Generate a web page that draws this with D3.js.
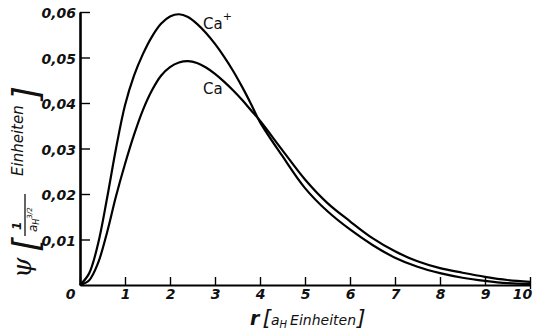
<!DOCTYPE html>
<html>
<head>
<meta charset="utf-8">
<script src="https://cdn.jsdelivr.net/npm/d3@7"></script>
<style>
  body { margin: 0; background: #fff; }
  svg { display: block; }
  .tick text { font-family: "DejaVu Sans", sans-serif; font-style: italic; font-weight: bold; font-size: 14px; fill: #111; }
</style>
</head>
<body>
<svg id="chart" width="533" height="334"></svg>
<script>
// radius in a_H units
const rValues = [0, 0.2, 0.4, 0.6, 0.8, 1.0, 1.2, 1.4, 1.6, 1.8, 2.0, 2.2, 2.4, 2.6, 2.8, 3.0, 3.2, 3.4, 3.6, 3.8, 4.0, 4.5, 5.0, 5.5, 6.0, 6.5, 7.0, 7.5, 8.0, 8.5, 9.0, 9.5, 10];
const caPlus = [0, 0.0025, 0.009, 0.019, 0.030, 0.0395, 0.0460, 0.0508, 0.0546, 0.0574, 0.0590, 0.0595, 0.0589, 0.0574, 0.0554, 0.0530, 0.0502, 0.0471, 0.0436, 0.0398, 0.0358, 0.0283, 0.0213, 0.0162, 0.0122, 0.0088, 0.0060, 0.0040, 0.0026, 0.0016, 0.0009, 0.0004, 0.0002];
const ca = [0, 0.0010, 0.0048, 0.0115, 0.0195, 0.0266, 0.0330, 0.0385, 0.0428, 0.0460, 0.0479, 0.0489, 0.0492, 0.0488, 0.0478, 0.0464, 0.0447, 0.0428, 0.0407, 0.0384, 0.0361, 0.0296, 0.0232, 0.0180, 0.0140, 0.0103, 0.0074, 0.0052, 0.0037, 0.0027, 0.0018, 0.0011, 0.0007];
const xTicks = [0, 1, 2, 3, 4, 5, 6, 7, 8, 9, 10];
const yTicks = [0.01, 0.02, 0.03, 0.04, 0.05, 0.06];

const svg = d3.select('#chart');
const x = d3.scaleLinear().domain([0, 10]).range([80, 530]);
const y = d3.scaleLinear().domain([0, 0.06]).range([285, 12]);

// axes, ticks point inward
const xAxis = svg.append('g')
  .attr('transform', `translate(0,${y(0)})`)
  .call(d3.axisBottom(x).tickValues(xTicks).tickSizeInner(-8).tickSizeOuter(0).tickPadding(4).tickFormat(d3.format('d')));
xAxis.select('.domain').attr('stroke-width', 2.2);
xAxis.selectAll('.tick line').attr('stroke-width', 1.4);
xAxis.selectAll('.tick').filter(d => d === 0).select('text').attr('dx', -10);
// last label sits at the right edge, keep it inside
xAxis.selectAll('.tick').filter(d => d === 10).select('text').attr('dx', -8);
xAxis.selectAll('.tick').filter(d => d === 10).select('line').attr('y2', 4).attr('y1', -8);

const yAxis = svg.append('g')
  .attr('transform', `translate(${x(0)},0)`)
  .call(d3.axisLeft(y).tickValues(yTicks).tickSizeInner(-10).tickSizeOuter(0).tickPadding(4)
    .tickFormat(d => d3.format('.2f')(d).replace('.', ',')));
yAxis.select('.domain').attr('stroke-width', 2.6);
yAxis.selectAll('.tick line').attr('stroke-width', 1.4);
yAxis.selectAll('.tick text').attr('dy', '0.4em');

// curves
const line = d3.line()
  .x((d, i) => x(rValues[i]))
  .y(d => y(d))
  .curve(d3.curveCatmullRom.alpha(0.5));

[caPlus, ca].forEach(s => {
  svg.append('path')
    .attr('d', line(s))
    .attr('fill', 'none')
    .attr('stroke', '#000')
    .attr('stroke-width', 2.2);
});

// curve labels
const labelFont = '"DejaVu Sans", sans-serif';
const cp = svg.append('text').attr('x', 203).attr('y', 29)
  .style('font-family', labelFont).style('font-size', '15px').attr('fill', '#111');
cp.append('tspan').text('Ca');
cp.append('tspan').attr('dy', -9).style('font-size', '11px').text('+');
svg.append('text').attr('x', 203).attr('y', 94)
  .style('font-family', labelFont).style('font-size', '15px').attr('fill', '#111').text('Ca');

// x axis title
const xt = svg.append('text').attr('x', 250).attr('y', 325)
  .style('font-family', labelFont).style('font-style', 'italic').style('font-size', '14px').attr('fill', '#111');
xt.append('tspan').style('font-weight', 'bold').style('font-size', '19px').text('r');
xt.append('tspan').attr('dx', 3).style('font-size', '22px').text('[');
xt.append('tspan').text('a');
xt.append('tspan').attr('dy', 3).style('font-size', '10px').text('H');
xt.append('tspan').attr('dy', -3).attr('dx', 3).text('Einheiten');
xt.append('tspan').attr('dx', 1).style('font-size', '22px').text(']');

// y axis title (rotated, rotated x grows upward)
const yt = svg.append('g').attr('transform', 'translate(0,280) rotate(-90)')
  .style('font-family', labelFont).style('font-style', 'italic').attr('fill', '#111');
yt.append('text').attr('x', 2).attr('y', 31).style('font-size', '26px').style('font-family', '"DejaVu Serif", serif').text('ψ');
yt.append('text').attr('x', 28).attr('y', 38).style('font-size', '36px').text('[');
yt.append('text').attr('x', 50).attr('y', 21).style('font-size', '12px').style('font-weight', 'bold').text('1');
yt.append('line').attr('x1', 44).attr('x2', 86).attr('y1', 25).attr('y2', 25).attr('stroke', '#111').attr('stroke-width', 1.3);
const den = yt.append('text').attr('x', 48).attr('y', 37).style('font-size', '12px');
den.append('tspan').text('a');
den.append('tspan').attr('dy', 2).style('font-size', '8px').text('H');
den.append('tspan').attr('dy', -7).style('font-size', '7px').text('3/2');
yt.append('text').attr('x', 104).attr('y', 23).style('font-size', '15px').text('Einheiten');
yt.append('text').attr('x', 180).attr('y', 38).style('font-size', '36px').text(']');
</script>
</body>
</html>
